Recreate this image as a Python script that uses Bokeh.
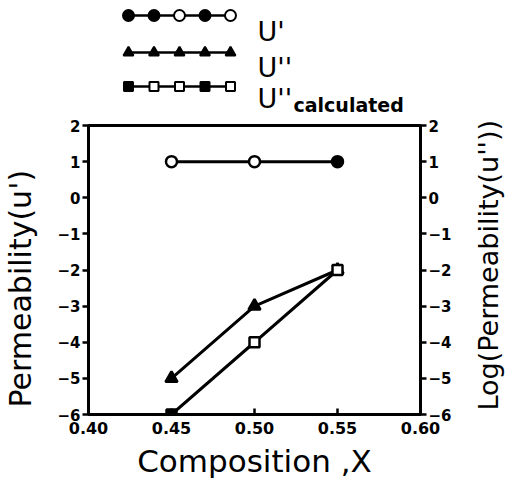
from bokeh.plotting import figure
from bokeh.layouts import row, column
from bokeh.models import Range1d, LinearAxis, FixedTicker, NumeralTickFormatter, ColumnDataSource
from bokeh.core.properties import value
from bokeh.embed import file_html
from bokeh.resources import INLINE

# ---------------- data ----------------
composition = [0.45, 0.50, 0.55]
u_prime = [1, 1, 1]
u_dprime = [-5, -3, -2]
u_dprime_calc = [-6, -4, -2]

x_ticks = [0.40, 0.45, 0.50, 0.55, 0.60]
y_ticks = [-6, -5, -4, -3, -2, -1, 0, 1, 2]

legend_labels = ["U'", "U''", "U''"]
legend_subscript = "calculated"
x_label = "Composition ,X"
y_label_left = "Permeability(u')"
y_label_right = "Log(Permeability(u''))"

# ---------------- styles ----------------
FONT = "DejaVu Sans"
BLACK = "black"
circle_fill = ["white", "white", "black"]
triangle_fill = ["black", "black", "black"]
square_fill = ["black", "white", "white"]

LEFT_W, MID_W, RIGHT_W = 40, 415, 58
LEG_H, MAIN_H = 116, 367
TOTAL_H = LEG_H + MAIN_H


def aux_fig(w, h):
    f = figure(width=w, height=h, x_range=Range1d(0, w), y_range=Range1d(h, 0),
               min_border=0, toolbar_location=None, output_backend="svg",
               x_axis_location=None, y_axis_location=None)
    f.grid.visible = False
    f.outline_line_color = None
    f.frame_align = False
    return f


# ---------------- main plot ----------------
p = figure(width=MID_W, height=MAIN_H, x_range=Range1d(0.40, 0.60), y_range=Range1d(-6, 2),
           toolbar_location=None, output_backend="svg",
           min_border_left=48, min_border_right=35, min_border_top=9, min_border_bottom=69)
p.grid.visible = False
p.outline_line_color = BLACK
p.outline_line_width = 3
p.frame_align = False

src_p = ColumnDataSource(dict(x=composition, y=u_prime, f=circle_fill))
src_d = ColumnDataSource(dict(x=composition, y=u_dprime, f=triangle_fill))
src_c = ColumnDataSource(dict(x=composition, y=u_dprime_calc, f=square_fill))

for src, mk, sz in [(src_p, "circle", 11), (src_d, "triangle", 12), (src_c, "square", 10)]:
    p.line("x", "y", source=src, line_color=BLACK, line_width=3)
    p.scatter("x", "y", source=src, marker=mk, size=sz, fill_color="f",
              line_color=BLACK, line_width=2.5)

xa = p.xaxis[0]
xa.ticker = FixedTicker(ticks=x_ticks)
xa.formatter = NumeralTickFormatter(format="0.00")
xa.major_tick_in = 6
xa.major_tick_out = 0
xa.major_label_standoff = 7
xa.axis_label = x_label
xa.axis_label_standoff = 6

ya = p.yaxis[0]
ya.ticker = FixedTicker(ticks=y_ticks)
ya.major_tick_in = 0
ya.major_tick_out = 6
ya.major_label_standoff = 2

ra = LinearAxis(ticker=FixedTicker(ticks=y_ticks))
ra.major_tick_in = 0
ra.major_tick_out = 6
ra.major_label_standoff = 2
p.add_layout(ra, "right")

for ax in [xa, ya, ra]:
    ax.axis_line_width = 3
    ax.axis_line_color = BLACK
    ax.major_tick_line_width = 2.5
    ax.major_tick_line_color = BLACK
    ax.minor_tick_line_color = None
    ax.major_label_text_font = FONT
    ax.major_label_text_font_style = "bold"
    ax.major_label_text_color = BLACK
    ax.axis_label_text_font = FONT
    ax.axis_label_text_font_style = "normal"
    ax.axis_label_text_color = BLACK
xa.major_label_text_font_size = "16px"
ya.major_label_text_font_size = "15px"
ra.major_label_text_font_size = "15px"
xa.axis_label_text_font_size = "31px"

# ---------------- legend figure ----------------
leg = aux_fig(MID_W, LEG_H)
mk_x0, mk_step, n_mk = 88, 25.5, 5
mk_xs = [mk_x0 + i * mk_step for i in range(n_mk)]
rows_y = [15, 52, 86]
base_y = [31, 67, 98]
leg_markers = [("circle", 11, ["black", "black", "white", "black", "white"]),
               ("triangle", 10, ["black"] * 5),
               ("square", 9, ["black", "white", "white", "black", "white"])]
for (mk, sz, fills), ry, by, lab in zip(leg_markers, rows_y, base_y, legend_labels):
    leg.line(x=[mk_xs[0], mk_xs[-1]], y=[ry, ry], line_color=BLACK, line_width=2.5)
    leg.scatter(x=mk_xs, y=[ry] * n_mk, marker=mk, size=sz, fill_color=fills,
                line_color=BLACK, line_width=2)
    leg.text(x=[217], y=[by], text=[lab], text_font=value(FONT), text_font_size="27px",
             text_baseline="alphabetic", text_align="left", text_color=BLACK)
leg.text(x=[253], y=[104], text=[legend_subscript], text_font=value(FONT), text_font_size="19px",
         text_font_style="bold", text_baseline="alphabetic", text_align="left", text_color=BLACK)

# ---------------- side labels ----------------
lf = aux_fig(LEFT_W, TOTAL_H)
lf.text(x=[20], y=[407], text=[y_label_left], angle=1.5707963, text_font=value(FONT),
        text_font_size="30px", text_align="left", text_baseline="middle", text_color=BLACK)

rf = aux_fig(RIGHT_W, TOTAL_H)
rf.text(x=[33], y=[410], text=[y_label_right], angle=1.5707963, text_font=value(FONT),
        text_font_size="27px", text_align="left", text_baseline="middle", text_color=BLACK)

layout = row(lf, column(leg, p, spacing=0), rf, spacing=0)

open("out.html", "w").write(file_html(layout, INLINE))
